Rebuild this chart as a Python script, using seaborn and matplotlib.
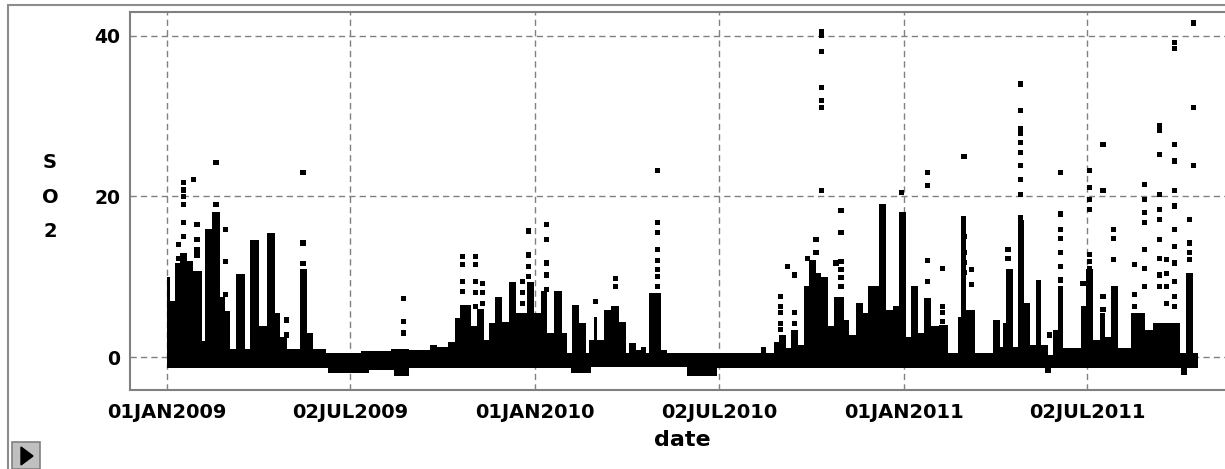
import numpy as np
import pandas as pd
import matplotlib
matplotlib.use("Agg")
import matplotlib.pyplot as plt
import matplotlib.dates as mdates
from matplotlib.patches import Rectangle, Polygon
import seaborn as sns

# ---------------- data ----------------
BASE_DATE = "2009-01-01"

# dense body of hourly readings: segment start (days since 2009-01-01) and upper edge (ppm)
dense_start = [0, 3, 8, 13, 20, 26, 35, 38, 45, 53, 58, 63, 69, 78, 83, 91, 99, 107, 112, 119,
               132, 139, 145, 158, 192, 222, 240, 261, 268, 279, 286, 291, 301, 307.5, 314, 319,
               325.7, 332.3, 339, 345.6, 357, 363.8, 370.4, 377, 383.6, 392, 396.8, 401.8, 408.4,
               415, 418.3, 423.3, 426.6, 433.2, 439.8, 448, 454.7, 458, 464.6, 469.6, 474.5, 477.8,
               489.4, 496, 588.6, 593.6, 601.8, 606.8, 613.4, 618.4, 625, 631.6, 636.6, 643.2,
               648.1, 654.7, 661.4, 671.3, 676.2, 682.8, 689.5, 694.4, 706, 712.6, 719.2, 725.8,
               732.4, 737.4, 744, 750.6, 757.3, 765.5, 773.8, 783.7, 787, 792, 800.2, 818.4, 825,
               828.3, 831.6, 838.2, 843.2, 849.1, 854.8, 861.4, 866.3, 873, 877.9, 882.9, 887.8,
               906, 911, 917.6, 924.2, 929.2, 935.8, 942.4, 955.6, 968.9, 977.1, 1003.6, 1010.2,
               1016.8]
dense_top = [10, 7, 11.7, 13, 12, 10.7, 2, 16, 18, 7.5, 5.7, 1, 10.3, 1, 14.6, 3.8, 15.5, 5.5, 2.5, 1,
             10.9, 3, 1, 0.5, 0.7, 1, 0.9, 1.5, 1.3, 1.9, 4.8, 6.5, 3.8, 6, 2.1, 4.2,
             7.5, 4.4, 9.4, 5.5, 9.4, 5.5, 8.2, 3, 8.2, 3, 0.5, 6.5, 4.2,
             0.5, 2.1, 5, 2.1, 5.9, 6.3, 4.4, 0.5, 1.7, 0.9, 1.3, 0.5, 8,
             0.9, 0.5, 1.3, 0.5, 1.9, 2.75, 1.1, 3.4, 1.5, 8.8, 12.1, 10.5,
             10, 3.8, 7.5, 4.6, 2.75, 6.7, 5.5, 8.8, 19, 5.9, 6.3, 18,
             2.5, 8.8, 3, 7.3, 3.8, 4, 0.5, 5, 17.5, 5.9, 0.5, 4.6, 1.3,
             4.2, 11, 1.3, 17.1, 6.7, 1.5, 9.6, 1.5, 0.3, 3.4, 8.8, 1.1,
             6.3, 10.9, 2.1, 5.5, 2.5, 8.8, 1.1, 5.5, 3.4, 4.2, 0.5, 10.5,
             0.5]
dense_end = 1022

# lower edge of the dense body
low_start = [0, 160, 200, 225, 240, 400, 420, 515, 545, 870, 876, 1005, 1011]
low_val = [-1.4, -2.0, -1.6, -2.4, -1.4, -2.0, -1.3, -2.4, -1.4, -2.0, -1.4, -2.2, -1.4]

# isolated high readings: day and the values stacked at that day
spike_day = [11.6, 17, 26.4, 30, 48.8, 58, 88, 119, 135, 234.8, 293, 306, 313.2, 352.2, 358.1,
             376, 425, 444.8, 486.1, 608.4, 615, 621.7, 634.9, 643.2, 648.8, 663, 668, 728.2,
             754, 768.2, 789.7, 797.5, 833.3, 845.8, 874.6, 885.5, 907.7, 914.3, 927.5, 937.8,
             959, 968.9, 983.1, 990.3, 998.6, 1013.5, 1016.8]
spike_vals = [[14.0, 12.3], [21.7, 20.8, 20.0, 19.0, 16.7, 15.0], [22.1], [16.5, 14.6, 13.4, 12.7],
              [24.2, 19.0], [15.9, 11.9, 7.8], [14.2], [4.6, 2.75], [23.0, 14.2, 11.6],
              [7.3, 4.4, 3.0], [12.5, 11.5, 9.4, 8.2], [12.5, 11.5, 9.4, 8.0, 6.3], [9.2, 8.0, 6.7],
              [9.4, 8.0, 6.7, 5.0], [15.7, 12.7, 11.3, 10.0], [16.5, 14.6, 11.7, 10.2, 8.4], [6.9],
              [9.8, 8.8], [23.2, 16.7, 15.5, 13.4, 12.0, 10.9, 10.0, 8.8],
              [7.5, 6.3, 5.5, 4.2, 3.4], [11.3], [10.2, 5.5, 4.2], [12.3], [14.6, 13.0],
              [40.5, 40.0, 38.0, 33.6, 31.9, 31.1, 20.7], [11.7], [18.2, 15.5, 11.9, 10.9, 9.9, 8.8],
              [20.5, 16.7, 13.4], [23.0, 21.4, 12.0, 9.4], [11.0, 6.3, 5.5, 4.4],
              [25.0, 15.0, 13.0, 11.8, 10.5], [10.9, 9.0], [13.4, 12.3],
              [34.0, 30.7, 28.4, 27.8, 26.7, 25.5, 23.8, 22.1, 20.2, 17.3], [2.75],
              [23.0, 17.8, 15.9, 14.8, 13.0, 11.3, 9.6], [9.2], [23.2, 21.1, 19.6, 18.4, 12.8, 11.9, 11.0],
              [26.5, 20.7, 7.5, 5.9], [15.9, 14.8, 12.1], [11.5, 7.75, 6.3],
              [21.5, 19.6, 18.0, 16.7, 13.4, 11.0, 8.8],
              [28.8, 28.2, 25.2, 20.2, 18.4, 17.1, 14.6, 12.3, 10.2, 8.8], [12.1, 10.4, 8.8, 6.7],
              [39.2, 38.4, 26.5, 24.4, 20.7, 18.8, 15.9, 13.8, 11.7, 9.4, 7.5, 6.3],
              [17.1, 14.2, 13.0, 12.1], [41.6, 31.1, 23.8]]

xtick_dates = ["2009-01-01", "2009-07-02", "2010-01-01", "2010-07-02", "2011-01-01", "2011-07-02"]
xtick_labels = ["01JAN2009", "02JUL2009", "01JAN2010", "02JUL2010", "01JAN2011", "02JUL2011"]
ytick_vals = [0, 20, 40]
ylabel_chars = ["S", "O", "2"]
xlabel_text = "date"

# ---------------- build tables ----------------
base = mdates.date2num(pd.Timestamp(BASE_DATE))
d_start = np.array(dense_start, dtype=float)
d_width = np.diff(np.append(d_start, dense_end))
l_start = np.array(low_start, dtype=float)
l_width = np.diff(np.append(l_start, dense_end))

rows = []
for day, vals in zip(spike_day, spike_vals):
    for v in vals:
        rows.append((base + day, v))
spikes = pd.DataFrame(rows, columns=["date", "so2"])

# ---------------- figure ----------------
sns.set_style("white")
plt.rcParams["font.family"] = ["DejaVu Sans"]
plt.rcParams["text.color"] = "black"
W, H = 1225, 469
fig = plt.figure(figsize=(W / 100, H / 100), dpi=100)
ax = fig.add_axes([130 / W, 79 / H, 1110 / W, 378 / H])

ax.bar(base + d_start, dense_top, width=d_width, bottom=0, align="edge",
       color="black", linewidth=0, zorder=3)
ax.bar(base + l_start, low_val, width=l_width, bottom=0, align="edge",
       color="black", linewidth=0, zorder=3)
sns.scatterplot(data=spikes, x="date", y="so2", marker="s", s=14, color="black",
                edgecolor="none", linewidth=0, ax=ax, legend=False, zorder=4)

px_per_day = 1.0095
ax.set_xlim(base + (130 - 166.7) / px_per_day, base + (1240 - 166.7) / px_per_day)
ax.set_ylim((357 - 390) / 8.03, (357 - 12) / 8.03)

ax.set_xticks([mdates.date2num(pd.Timestamp(d)) for d in xtick_dates])
ax.set_xticklabels(xtick_labels, fontsize=14, fontweight="bold")
ax.set_yticks(ytick_vals)
ax.set_yticklabels([str(v) for v in ytick_vals], fontsize=13.5, fontweight="bold")
ax.set_xlabel("")
ax.set_ylabel("")

ax.grid(True, color="#808080", linestyle=(0, (4.5, 3)), linewidth=1.0)
ax.set_axisbelow(True)
for sp in ax.spines.values():
    sp.set_color("#808080")
    sp.set_linewidth(1.5)
ax.tick_params(axis="both", direction="out", length=5, width=1.1, color="#808080",
               labelcolor="black")
ax.tick_params(axis="x", pad=4)
ax.tick_params(axis="y", pad=2)

# axis titles
for ch, ypx in zip(ylabel_chars, [163, 197, 231]):
    fig.text(50 / W, 1 - ypx / H, ch, ha="center", va="center", fontsize=14,
             fontweight="bold", color="black")
fig.text(682 / W, 1 - 440 / H, xlabel_text, ha="center", va="center", fontsize=16,
         fontweight="bold", color="black")

# outer frame
fig.add_artist(Rectangle((8 / W, -0.1), 1.2, 1.1 - 5 / H, transform=fig.transFigure,
                         fill=False, edgecolor="#8c8c8c", linewidth=1.5))
# small button at lower left
fig.add_artist(Rectangle((12 / W, 0), 28 / W, 27 / H, transform=fig.transFigure,
                         facecolor="#c0c0c0", edgecolor="#808080", linewidth=1.2))
fig.add_artist(Polygon([(21 / W, 1 - 447 / H), (21 / W, 1 - 465 / H), (33 / W, 1 - 456 / H)],
                       closed=True, transform=fig.transFigure, facecolor="black",
                       edgecolor="black"))

fig.savefig("out.png", dpi=100)
